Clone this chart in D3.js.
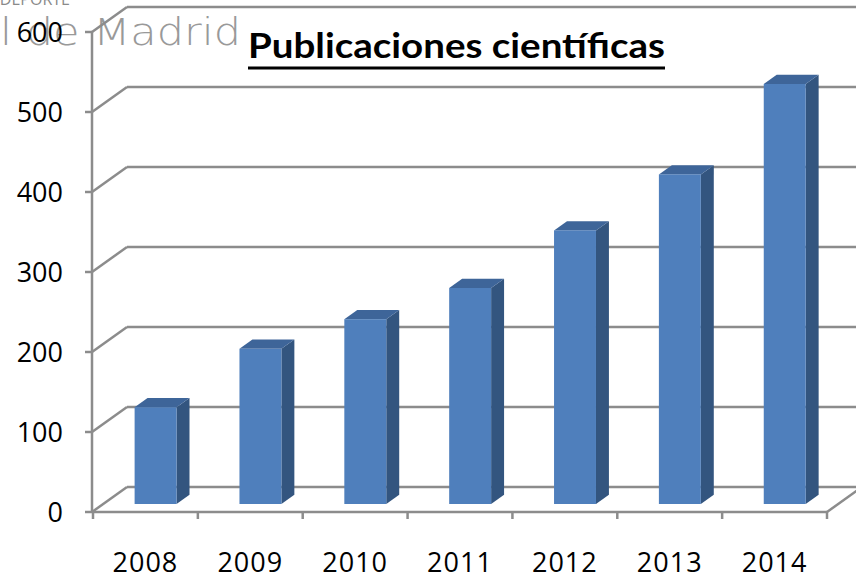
<!DOCTYPE html>
<html>
<head>
<meta charset="utf-8">
<script src="https://cdn.jsdelivr.net/npm/d3@7"></script>
<style>
  body { margin: 0; background: #fff; }
  svg { display: block; }
</style>
</head>
<body>
<div class="chart"></div>
<script>
// data
var years = ["2008", "2009", "2010", "2011", "2012", "2013", "2014"];
var pubs = [121, 194, 231, 270, 342, 412, 525];
var yTicks = [0, 100, 200, 300, 400, 500, 600];

var width = 856,
    height = 578;

// fake 3d: depth offset of the back wall
var depthX = 35,
    depthY = -25;

var svg = d3.select(".chart").append("svg")
    .attr("width", width)
    .attr("height", height);

var x = d3.scaleBand()
    .domain(years)
    .range([93, 827]);

var y = d3.scaleLinear()
    .domain([0, 600])
    .range([512, 32]);

// background banner text (cut off in the original slide)
svg.append("text")
    .attr("x", 70).attr("y", 5)
    .attr("text-anchor", "end")
    .attr("font-family", "Open Sans, sans-serif")
    .attr("font-size", 16)
    .attr("fill", "#8a8a8a")
    .text("DEPORTE");

svg.append("text")
    .attr("x", 0).attr("y", 45)
    .attr("font-family", "DejaVu Sans, sans-serif")
    .attr("font-weight", 200)
    .attr("font-size", 37)
    .attr("textLength", 241)
    .attr("lengthAdjust", "spacingAndGlyphs")
    .attr("fill", "#999")
    .text("l de Madrid");

var grid = svg.append("g").attr("class", "grid")
    .attr("fill", "none")
    .attr("stroke", "#8c8c8c")
    .attr("stroke-width", 2.5);

// back wall lines + side wall diagonals
yTicks.forEach(function(t) {
    grid.append("line")
        .attr("x1", 92 + depthX).attr("y1", y(t) + depthY)
        .attr("x2", width).attr("y2", y(t) + depthY);
    grid.append("line")
        .attr("x1", 92).attr("y1", y(t))
        .attr("x2", 92 + depthX).attr("y2", y(t) + depthY);
});

// floor front edge and right diagonal
grid.append("line")
    .attr("x1", 92).attr("y1", y(0))
    .attr("x2", 827).attr("y2", y(0));
grid.append("line")
    .attr("x1", 827).attr("y1", y(0))
    .attr("x2", 827 + depthX).attr("y2", y(0) + depthY);

// left axis
grid.append("line")
    .attr("x1", 92).attr("y1", y(600))
    .attr("x2", 92).attr("y2", y(0));

// ticks
yTicks.forEach(function(t) {
    grid.append("line")
        .attr("x1", 85).attr("y1", y(t))
        .attr("x2", 92).attr("y2", y(t));
});
years.concat(["end"]).forEach(function(d, i) {
    var xx = 93 + i * x.bandwidth();
    grid.append("line")
        .attr("x1", xx).attr("y1", y(0))
        .attr("x2", xx).attr("y2", y(0) + 7);
});

// bars
var d0 = 0.32, d1 = 0.69;
var bw = x.bandwidth();

var bar = svg.append("g").attr("class", "bars")
    .selectAll("g")
    .data(years.map(function(d, i) { return {year: d, value: pubs[i]}; }))
    .enter()
    .append("g");

function face(d) {
    var xl = x(d.year) + bw * 0.29 + d0 * depthX,
        xr = xl + bw * 0.4,
        yb = y(0) + d0 * depthY,
        yt = y(d.value) + d0 * depthY,
        sx = (d1 - d0) * depthX,
        sy = (d1 - d0) * depthY;
    return {xl: xl, xr: xr, yb: yb, yt: yt, sx: sx, sy: sy};
}

bar.append("path")
    .attr("fill", "#33557f")
    .attr("d", function(d) {
        var f = face(d);
        return "M" + f.xr + "," + f.yt + "L" + (f.xr + f.sx) + "," + (f.yt + f.sy) +
            "L" + (f.xr + f.sx) + "," + (f.yb + f.sy) + "L" + f.xr + "," + f.yb + "Z";
    });

bar.append("path")
    .attr("fill", "#3e6599")
    .attr("d", function(d) {
        var f = face(d);
        return "M" + f.xl + "," + f.yt + "L" + (f.xl + f.sx) + "," + (f.yt + f.sy) +
            "L" + (f.xr + f.sx) + "," + (f.yt + f.sy) + "L" + f.xr + "," + f.yt + "Z";
    });

bar.append("rect")
    .attr("fill", "#4f7fbc")
    .attr("x", function(d) { return face(d).xl; })
    .attr("y", function(d) { return face(d).yt; })
    .attr("width", bw * 0.4)
    .attr("height", function(d) { var f = face(d); return f.yb - f.yt; });

// axis labels
svg.append("g")
    .selectAll("text")
    .data(yTicks)
    .enter().append("text")
    .attr("x", 63)
    .attr("y", function(d) { return y(d); })
    .attr("dy", "0.36em")
    .attr("text-anchor", "end")
    .attr("font-family", "Open Sans, sans-serif")
    .attr("font-size", 27)
    .attr("fill", "#000")
    .text(function(d) { return d; });

svg.append("g")
    .selectAll("text")
    .data(years)
    .enter().append("text")
    .attr("x", function(d) { return x(d) + bw / 2; })
    .attr("y", 572)
    .attr("text-anchor", "middle")
    .attr("font-family", "Open Sans, sans-serif")
    .attr("font-size", 27)
    .attr("letter-spacing", 1)
    .attr("fill", "#000")
    .text(function(d) { return d; });

// title
svg.append("text")
    .attr("x", 248).attr("y", 58)
    .attr("font-family", "Lato, sans-serif")
    .attr("font-weight", "bold")
    .attr("font-size", 35)
    .attr("textLength", 417)
    .attr("lengthAdjust", "spacingAndGlyphs")
    .attr("fill", "#000")
    .text("Publicaciones científicas");

svg.append("line")
    .attr("x1", 248).attr("y1", 68)
    .attr("x2", 665).attr("y2", 68)
    .attr("stroke", "#000")
    .attr("stroke-width", 3);
</script>
</body>
</html>
